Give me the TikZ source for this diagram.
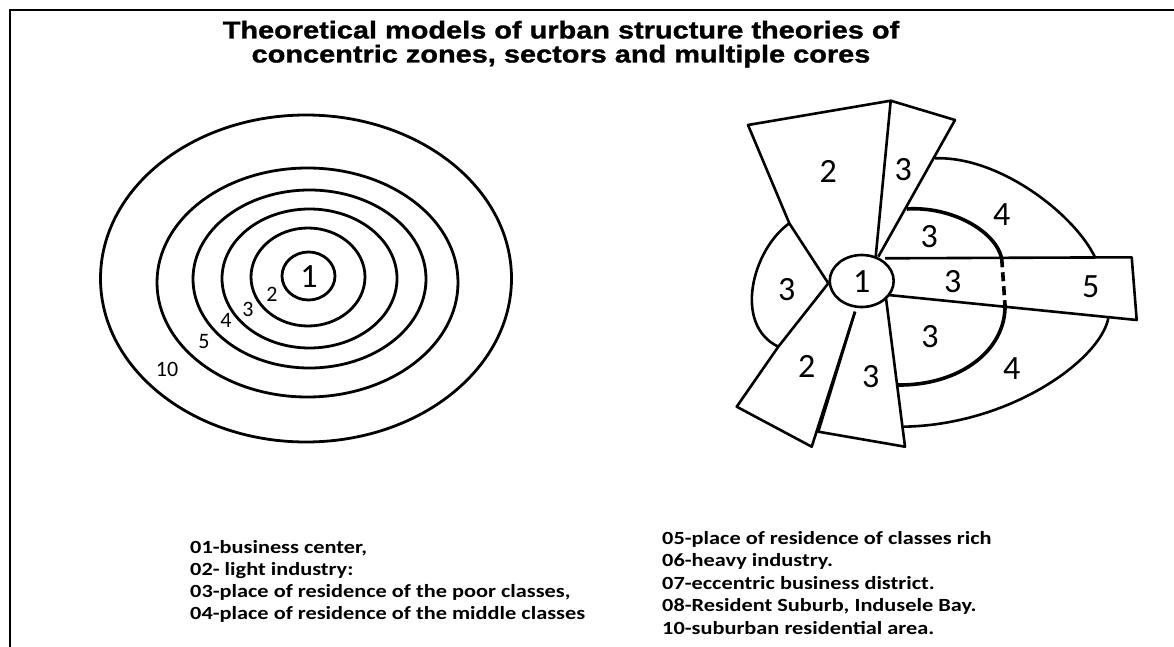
\documentclass[tikz,border=0pt]{standalone}
\usepackage{fontspec}
\setmainfont{Carlito}
\newfontfamily\legfont[FakeStretch=1.2]{Carlito}
\newfontfamily\titlefont[FakeStretch=1.19,BoldFeatures={FakeBold=1.2}]{Liberation Sans}
\begin{document}
\begin{tikzpicture}[x=1pt,y=-1pt,
  ln/.style={line width=2.6pt, line join=round},
  ringline/.style={line width=2.8pt},
  heavyarc/.style={line width=3.6pt},
  lab/.style={font=\fontsize{34}{40}\selectfont, inner sep=0pt},
  smalllab/.style={font=\fontsize{22}{26}\selectfont, inner sep=0pt},
  leg/.style={font=\legfont\bfseries\fontsize{18.6}{22}\selectfont, anchor=base west, inner sep=0pt},
  ttl/.style={font=\titlefont\bfseries\fontsize{24.3}{28}\selectfont, anchor=base, inner sep=0pt}]
\useasboundingbox (0,0) rectangle (1174,647);
\fill[white] (0,0) rectangle (1174,647);
\draw[line width=2.5pt] (10,647) -- (10,10) -- (1180,10);

% title
\node[ttl] (t1) at (561,38.5) {Theoretical models of urban structure theories of};
\node[ttl] (t2) at (561,62.5) {concentric zones, sectors and multiple cores};

% concentric zones
\draw[ringline] (306,278.5) ellipse [x radius=205.5, y radius=163.5];
\draw[ringline] (307.5,282.5) ellipse [x radius=150.5, y radius=114.5];
\draw[ringline] (309.5,279) ellipse [x radius=116.5, y radius=89];
\draw[ringline] (309.5,278.5) ellipse [x radius=87.5, y radius=69.5];
\draw[ringline] (308,277) ellipse [x radius=57, y radius=49];
\draw[ringline] (308.5,276) ellipse [x radius=26.5, y radius=24];
\node[lab] (c1) at (309,277) {1};
\node[smalllab] (c2) at (272,294) {2};
\node[smalllab] (c3) at (248,309) {3};
\node[smalllab] (c4) at (226,320) {4};
\node[smalllab] (c5) at (204,342) {5};
\node[smalllab] (c10) at (167,369) {10};

% sectors and multiple cores
\draw[ln] (828.3,283.3) -- (789.3,223.3) -- (748,125) -- (890.7,100.7) -- (875.7,256.7);
\draw[ln] (890.7,100.7) -- (955,120) -- (878.3,256.7);
\draw[ln] (885,258.3) -- (1131.7,257.3) -- (1136.7,320) -- (888.3,295);
\draw[ln] (886,298.3) -- (905,446.7) -- (818.3,431.7) -- (855,311.7);
\draw[ln] (855,311.7) -- (811.7,446.7) -- (736.7,406.7) -- (778.3,346.7) -- (828.3,283.3);
\draw[ln] (789.3,223.3) .. controls (752,250) and (733,325) .. (778.3,346.7);
\draw[ln] (935,158.3) .. controls (1000,156) and (1075,215) .. (1095,257.3);
\draw[heavyarc] (906.7,209) .. controls (950,206) and (995,230) .. (1001.7,258.3);
\draw[heavyarc, dash pattern=on 9pt off 5pt] (1001.7,258.3) -- (1005,305);
\draw[heavyarc] (1005,305) .. controls (1006,350) and (960,386) .. (896.7,385);
\draw[ln] (1108.3,318.3) .. controls (1100,360) and (1010,425) .. (903.3,426.7);
\draw[ln, fill=white] (861.7,281) ellipse [x radius=32, y radius=26];

\node[lab] (r1) at (861.7,281.7) {1};
\node[lab] (r2a) at (828.3,171.7) {2};
\node[lab] (r3a) at (903.3,170) {3};
\node[lab] (r4a) at (1001.7,215) {4};
\node[lab] (r3b) at (929.3,236.7) {3};
\node[lab] (r3c) at (786.7,290) {3};
\node[lab] (r3d) at (952.7,281.7) {3};
\node[lab] (r5) at (1090.7,286.7) {5};
\node[lab] (r3e) at (930,336.7) {3};
\node[lab] (r2b) at (806.7,366.7) {2};
\node[lab] (r3f) at (870.7,376.7) {3};
\node[lab] (r4b) at (1011.7,368.3) {4};

% legend
\node[leg] (l1) at (190,553) {01-business center,};
\node[leg] (l2) at (190,575) {02- light industry:};
\node[leg] (l3) at (190,597.5) {03-place of residence of the poor classes,};
\node[leg] (l4) at (190,619.5) {04-place of residence of the middle classes};
\node[leg] (l5) at (662,544) {05-place of residence of classes rich};
\node[leg] (l6) at (662,566.5) {06-heavy industry.};
\node[leg] (l7) at (662,589) {07-eccentric business district.};
\node[leg] (l8) at (662,611.5) {08-Resident Suburb, Indusele Bay.};
\node[leg] (l10) at (662,634) {10-suburban residential area.};
\end{tikzpicture}
\end{document}
